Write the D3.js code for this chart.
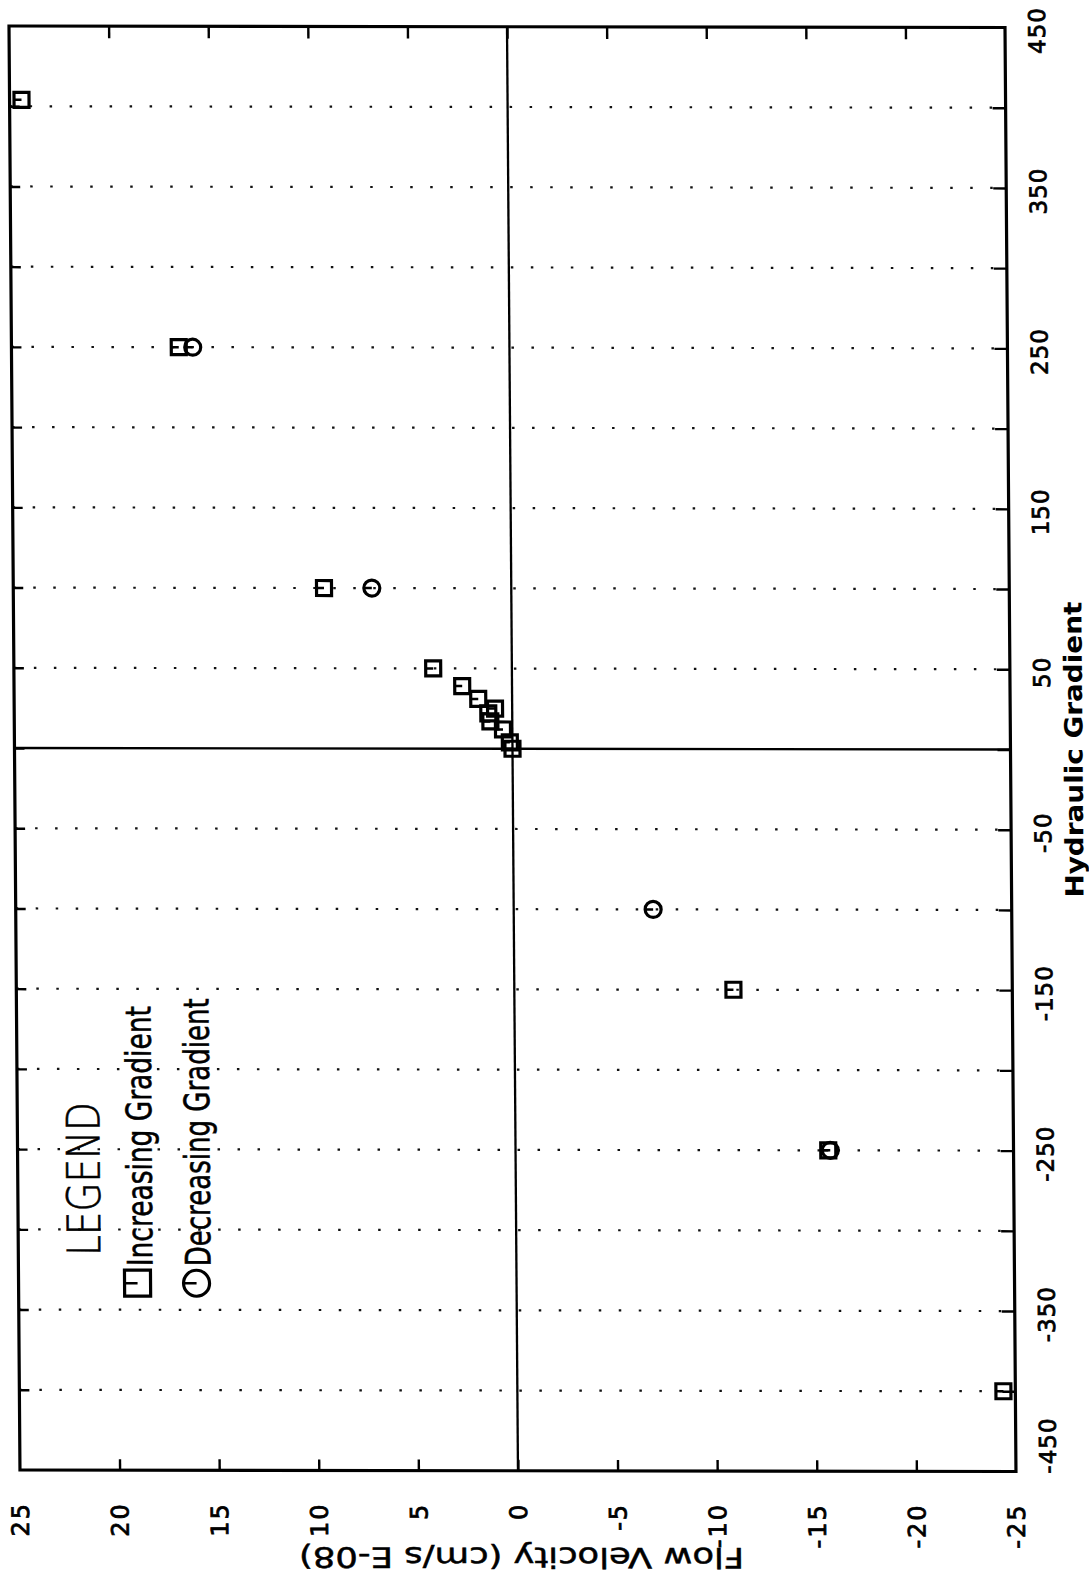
<!DOCTYPE html>
<html>
<head>
<meta charset="utf-8">
<script src="https://cdn.jsdelivr.net/npm/d3@7"></script>
<style>
  html, body { margin: 0; padding: 0; background: #fff; }
  svg { display: block; }
  text { fill: #000; }
</style>
</head>
<body>
<svg id="chart" width="1089" height="1575"></svg>
<script>
// Hydraulic gradient axis (runs down the right side) and flow velocity axis (along the bottom)
const gradientTicks = [450, 400, 350, 300, 250, 200, 150, 100, 50, 0, -50, -100, -150, -200, -250, -300, -350, -400, -450];
const gradientLabels = [450, 350, 250, 150, 50, -50, -150, -250, -350, -450];
const velocityTicks = [25, 20, 15, 10, 5, 0, -5, -10, -15, -20, -25];

// Increasing-gradient series (squares)
const incGradient = [404, 250, 100, 50, 39, 31, 25, 22, 17, 12, 4, 0, -150, -250, -400];
const incVelocity = [24.4, 16.6, 9.4, 3.95, 2.5, 1.7, 0.86, 1.2, 1.1, 0.47, 0.13, 0, -11.0, -15.7, -24.4];

// Decreasing-gradient series (circles)
const decGradient = [250, 100, -100, -250];
const decVelocity = [15.9, 7.0, -7.0, -15.8];

const W = 996, H = 1444;
const svg = d3.select("#chart");
svg.append("rect").attr("width", 1089).attr("height", 1575).attr("fill", "#fff");

// plot area, slightly sheared like the printed sheet
const g = svg.append("g")
  .attr("transform", "matrix(1,0.0015,0.0076,1,9,26)");

const gy = d3.scaleLinear().domain([450, -450]).range([0, H]);
const vx = d3.scaleLinear().domain([25, -25]).range([0, W]);

// dotted grid at every 50 units of gradient
g.append("g").selectAll("line")
  .data(gradientTicks.filter(d => d !== 0 && Math.abs(d) !== 450))
  .join("line")
  .attr("x1", 0).attr("x2", W)
  .attr("y1", d => gy(d)).attr("y2", d => gy(d))
  .attr("stroke", "#111").attr("stroke-width", 2.2)
  .attr("stroke-dasharray", "2.5 17.5");

// zero lines
g.append("line").attr("x1", 0).attr("x2", W).attr("y1", gy(0)).attr("y2", gy(0))
  .attr("stroke", "#000").attr("stroke-width", 2.3);
g.append("line").attr("x1", vx(0)).attr("x2", vx(0)).attr("y1", 0).attr("y2", H)
  .attr("stroke", "#000").attr("stroke-width", 2.3);

// inward ticks on all four sides
function tickAxis(axis, tx, ty) {
  const a = g.append("g").attr("transform", `translate(${tx},${ty})`).call(axis);
  a.select(".domain").remove();
  a.selectAll("line").attr("stroke", "#000").attr("stroke-width", 2.4);
  a.selectAll("text").remove();
}
const innerGrad = gradientTicks.filter(d => Math.abs(d) !== 450);
const innerVel = velocityTicks.filter(d => Math.abs(d) !== 25);
tickAxis(d3.axisRight(gy).tickValues(innerGrad).tickSizeInner(-13).tickSizeOuter(0), W, 0);
tickAxis(d3.axisLeft(gy).tickValues(innerGrad).tickSizeInner(-10).tickSizeOuter(0), 0, 0);
tickAxis(d3.axisTop(vx).tickValues(innerVel).tickSizeInner(-12).tickSizeOuter(0), 0, 0);
tickAxis(d3.axisBottom(vx).tickValues(innerVel).tickSizeInner(-11).tickSizeOuter(0), 0, H);

// frame
g.append("rect").attr("x", 0).attr("y", 0).attr("width", W).attr("height", H)
  .attr("fill", "none").attr("stroke", "#000").attr("stroke-width", 3.2);

// gradient tick labels (rotated)
g.append("g").selectAll("text")
  .data(gradientLabels)
  .join("text")
  .attr("transform", d => `translate(${W + 40},${Math.min(gy(d) + 3, H - 26)}) rotate(-90)`)
  .attr("text-anchor", "middle")
  .attr("font-family", "'DejaVu Sans', sans-serif")
  .attr("font-size", 23)
  .attr("letter-spacing", 1)
  .attr("stroke", "#000").attr("stroke-width", 0.8)
  .text(d => String(d));

// velocity tick labels (rotated)
g.append("g").selectAll("text")
  .data(velocityTicks)
  .join("text")
  .attr("transform", d => `translate(${vx(d)},${H + 32}) rotate(-90)`)
  .attr("text-anchor", "end")
  .attr("dy", "0.36em")
  .attr("font-family", "'DejaVu Sans', sans-serif")
  .attr("font-size", 24)
  .attr("letter-spacing", 2)
  .attr("stroke", "#000").attr("stroke-width", 0.8)
  .text(d => String(d));

// axis titles
g.append("text")
  .attr("transform", `translate(${W + 72},${gy(0)}) rotate(-90)`)
  .attr("text-anchor", "middle")
  .attr("font-family", "'DejaVu Sans', sans-serif")
  .attr("font-weight", "bold")
  .attr("font-size", 25)
  .attr("textLength", 296).attr("lengthAdjust", "spacingAndGlyphs")
  .text("Hydraulic  Gradient");

g.append("text")
  .attr("transform", `translate(${vx(0) + 3},${H + 77}) rotate(180)`)
  .attr("text-anchor", "middle")
  .attr("font-family", "'DejaVu Sans', sans-serif")
  .attr("font-size", 28)
  .attr("stroke", "#000").attr("stroke-width", 0.5)
  .attr("textLength", 445).attr("lengthAdjust", "spacingAndGlyphs")
  .text("Flow Velocity (cm/s E-08)");

// markers
const half = 7.5;
function squareMark(sel, s) {
  sel.append("rect")
    .attr("x", -s).attr("y", -s).attr("width", 2 * s).attr("height", 2 * s)
    .attr("fill", "none").attr("stroke", "#000").attr("stroke-width", 3.2);
  sel.append("line").attr("x1", -s).attr("x2", 0).attr("y1", 0).attr("y2", 0)
    .attr("stroke", "#000").attr("stroke-width", 2.5);
}
function circleMark(sel, s) {
  sel.append("circle").attr("r", s)
    .attr("fill", "none").attr("stroke", "#000").attr("stroke-width", 3.2);
  sel.append("line").attr("x1", -s).attr("x2", 0).attr("y1", 0).attr("y2", 0)
    .attr("stroke", "#000").attr("stroke-width", 2.5);
}

const incPts = incGradient.map((gr, i) => ({ gr, v: incVelocity[i] }));
const decPts = decGradient.map((gr, i) => ({ gr, v: decVelocity[i] }));

g.append("g").selectAll("g")
  .data(incPts).join("g")
  .attr("transform", d => `translate(${vx(d.v)},${gy(d.gr)})`)
  .each(function () { squareMark(d3.select(this), half); });

g.append("g").selectAll("g")
  .data(decPts).join("g")
  .attr("transform", d => `translate(${vx(d.v)},${gy(d.gr)})`)
  .each(function () { circleMark(d3.select(this), half + 0.5); });

// legend
const legend = g.append("g");
legend.append("text")
  .attr("transform", "translate(82,1153) rotate(-90)")
  .attr("text-anchor", "middle")
  .attr("font-family", "'DejaVu Sans', sans-serif")
  .attr("font-weight", 200)
  .attr("font-size", 46)
  .attr("stroke", "#000").attr("stroke-width", 0.6)
  .attr("textLength", 154).attr("lengthAdjust", "spacingAndGlyphs")
  .text("LEGEND");

const legendItems = [
  { label: "Increasing Gradient", u: 119, base: 134, len: 260, mark: squareMark },
  { label: "Decreasing Gradient", u: 178, base: 192, len: 268, mark: circleMark }
];
legendItems.forEach(it => {
  const m = legend.append("g").attr("transform", `translate(${it.u},1257)`);
  it.mark(m, 13);
  legend.append("text")
    .attr("transform", `translate(${it.base},1240) rotate(-90)`)
    .attr("text-anchor", "start")
    .attr("font-family", "'DejaVu Sans', sans-serif")
    .attr("font-size", 35)
    .attr("stroke", "#000").attr("stroke-width", 0.6)
    .attr("textLength", it.len).attr("lengthAdjust", "spacingAndGlyphs")
    .text(it.label);
});
</script>
</body>
</html>
